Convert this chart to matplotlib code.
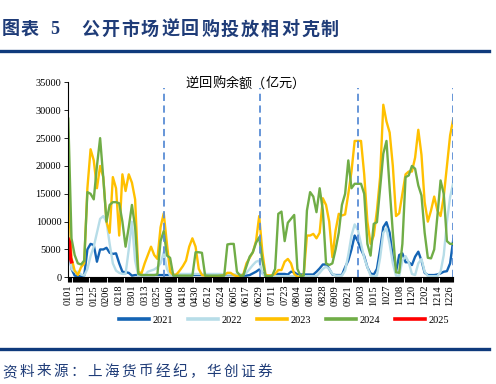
import matplotlib
matplotlib.use('Agg')
import matplotlib.pyplot as plt
from matplotlib.lines import Line2D
from matplotlib.ticker import MultipleLocator

plt.rcParams['font.family'] = ['Liberation Serif', 'Noto Sans CJK SC', 'DejaVu Sans']

# ── Data (day-of-year index, leap-year calendar, sampled every 3 days) ─────────
days = list(range(0, 364, 3))

repo_2021 = [
    6500, 1500, 300, 200, 200, 300, 5000, 6000, 5800, 2800,
    5000, 5000, 5300, 4400, 4200, 4300, 2500, 1000, 900, 800,
    300, 400, 400, 400, 400, 400, 400, 400, 400, 400,
    400, 400, 400, 400, 400, 400, 400, 400, 400, 400,
    400, 400, 400, 400, 400, 400, 400, 400, 400, 400,
    400, 400, 400, 400, 400, 300, 300, 400, 700, 1000,
    1400, 800, 200, 200, 300, 400, 600, 600, 600, 500,
    1000, 900, 500, 500, 500, 500, 500, 500, 1000, 1600,
    2300, 2300, 1500, 500, 400, 400, 400, 1800, 3000, 5000,
    7500, 6500, 5000, 3800, 1800, 700, 500, 1500, 5000, 9000,
    9900, 8000, 3500, 1000, 4000, 4300, 2700, 2700, 2200, 3700,
    4600, 3000, 800, 400, 400, 400, 500, 700, 1000, 1100,
    2500, 6800,
]
repo_2022 = [
    7000, 1500, 1000, 1000, 500, 300, 1500, 3800, 5500, 8000,
    10500, 11000, 10000, 6000, 2500, 1200, 800, 600, 600, 5000,
    10000, 3000, 300, 300, 300, 1000, 1200, 1400, 1800, 2500,
    4500, 1500, 300, 500, 600, 600, 600, 600, 600, 600,
    600, 600, 600, 600, 600, 600, 600, 600, 600, 500,
    500, 500, 500, 500, 500, 500, 800, 1500, 2200, 2800,
    3000, 600, 200, 200, 200, 200, 200, 200, 200, 200,
    200, 200, 200, 200, 200, 200, 200, 200, 200, 800,
    1500, 1900, 1500, 600, 300, 300, 300, 1200, 4000, 7500,
    9500, 8500, 6000, 3500, 1800, 300, 200, 300, 3500, 8000,
    8800, 6000, 2500, 300, 300, 3000, 3800, 2700, 600, 400,
    2500, 3300, 1000, 200, 200, 200, 200, 1000, 4000, 10000,
    14400, 17000,
]
repo_2023 = [
    17000, 3500, 1200, 400, 1800, 2500, 16000, 23000, 21000, 16000,
    20000, 18000, 10000, 8000, 18000, 16000, 7500, 18500, 15500, 18500,
    17000, 14000, 1000, 700, 2500, 4000, 5500, 4000, 3300, 9000,
    11500, 6000, 1000, 400, 500, 1200, 2000, 3000, 5500, 7000,
    5500, 1500, 400, 300, 200, 200, 200, 200, 300, 400,
    800, 800, 400, 200, 200, 500, 2500, 3500, 4500, 6500,
    11000, 4500, 400, 350, 350, 600, 1300, 1300, 2800, 3300,
    2500, 600, 100, 100, 500, 7500, 7500, 7800, 7000, 8000,
    14200, 13000, 10000, 3600, 8400, 11400, 11100, 11300, 15000, 19000,
    24500, 24500, 24500, 18500, 10000, 6000, 7500, 12000, 18000, 31000,
    28000, 26000, 20000, 11000, 11500, 15000, 18500, 19000, 19000, 21500,
    26500, 22000, 13500, 10000, 12000, 14500, 12000, 11000, 14500, 20000,
    25500, 28500,
]
repo_2024 = [
    28500, 7000, 4000, 2500, 2300, 3000, 15300, 15000, 14000, 20000,
    25000, 17800, 10000, 13000, 13500, 13500, 13300, 10000, 5500, 9000,
    13000, 9000, 600, 400, 400, 400, 400, 400, 500, 6500,
    8300, 3900, 3500, 300, 300, 300, 300, 300, 300, 300,
    4500, 4500, 4400, 300, 300, 300, 300, 300, 300, 300,
    5900, 6000, 6000, 1000, 300, 300, 2000, 3700, 4500, 6200,
    7200, 3000, 200, 200, 200, 1500, 11400, 11800, 6500, 9800,
    10500, 11200, 1500, 200, 300, 12000, 15300, 14500, 11700, 16000,
    12000, 2500, 2200, 2500, 5000, 8000, 13000, 15000, 21000, 16000,
    16800, 16800, 16800, 15000, 6000, 3900, 9600, 9900, 16000, 22200,
    24500, 16000, 8000, 900, 800, 6000, 18000, 18300, 20000, 19500,
    16500, 14700, 8000, 3500, 3400, 5000, 11000, 17400, 15000, 6500,
    6000, 6000,
]
days_2025 = [0, 1, 2, 3]
repo_2025 = [6800, 6300, 3500, 2800]

years = ['2021', '2022', '2023', '2024', '2025']
colors = ['#1464B4', '#B7DDE8', '#FFC000', '#70AD47', '#FF0000']

label_days = list(range(0, 361, 12))
date_labels = ['0101', '0113', '0125', '0206', '0218', '0301', '0313', '0325',
               '0406', '0418', '0430', '0512', '0524', '0605', '0617', '0629',
               '0711', '0723', '0804', '0816', '0828', '0909', '0921', '1003',
               '1015', '1027', '1108', '1120', '1202', '1214', '1226']
quarter_ends = [90, 181, 273, 363]

header_tag = ['图', '表', '5']
header_title = '公开市场逆回购投放相对克制'
source_note = '资料来源：上海货币经纪，华创证券'
panel_title = '逆回购余额（亿元）'

W, H = 496, 384
cjk = ['Liberation Serif', 'Noto Sans CJK SC']


def spaced_text(fig, text, x0, step, y, **kw):
    """Lay out characters one by one with a fixed pitch (pixels)."""
    for k, ch in enumerate(text):
        fig.text((x0 + k * step) / W, 1 - y / H, ch, ha='center', va='center',
                 family=cjk, **kw)


# ── Figure ────────────────────────────────────────────────────────────────────
fig = plt.figure(figsize=(W / 100, H / 100), dpi=100)
navy = '#1F3C78'

for ch, x in zip(header_tag, [11, 30, 55]):
    fig.text(x / W, 1 - 30 / H, ch, ha='center', va='center', fontsize=13,
             fontweight='bold', color=navy, family=cjk)
spaced_text(fig, header_title, 90, 20.0, 30, fontsize=13,
            fontweight='bold', color=navy)
fig.add_artist(Line2D([0, 489 / W], [1 - 51 / H] * 2, lw=2.4, color='#0F3A7C'))
fig.add_artist(Line2D([0, 489 / W], [1 - 349 / H] * 2, lw=2.4, color='#0F3A7C'))
spaced_text(fig, source_note, 10, 17.0, 372, fontsize=10.5, color=navy)

ax = fig.add_axes([0.1377, 0.2779, 0.7762, 0.5073])

series = [repo_2021, repo_2022, repo_2023, repo_2024]
for vals, c, y in zip(series, colors[:4], years[:4]):
    ax.plot(days, vals, color=c, lw=1.7, label=y, solid_joinstyle='round')
ax.plot(days_2025, repo_2025, color=colors[4], lw=2.6, label=years[4])

ax.vlines(quarter_ends, 0, 34000, colors='#5B8ED6', linestyles=(0, (4, 2.5)), lw=1.3)

ax.set_xlim(0, 363)
ax.set_ylim(0, 35000)
ax.yaxis.set_major_locator(MultipleLocator(5000))
ax.set_xticks(label_days)
ax.set_xticklabels(date_labels, rotation=90, fontsize=7.5)
ax.xaxis.set_minor_locator(MultipleLocator(1))
ax.tick_params(axis='x', which='both', length=3.5, width=0.8, direction='out', pad=2)
ax.tick_params(axis='y', length=3, width=0.6, labelsize=7.5, pad=2)
for s in ['top', 'right']:
    ax.spines[s].set_visible(False)
for s in ['left', 'bottom']:
    ax.spines[s].set_linewidth(0.8)

spaced_text(fig, panel_title, 192, 13.3, 84, fontsize=9.5)

handles = [Line2D([], [], color=c, lw=2.6) for c in colors]
fig.legend(handles, years, loc='center', bbox_to_anchor=(0.573, 1 - 320 / H),
           ncol=5, frameon=False, fontsize=7.5, handlelength=2.9,
           columnspacing=1.45, handletextpad=0.3)

fig.savefig('out.png', dpi=100)
